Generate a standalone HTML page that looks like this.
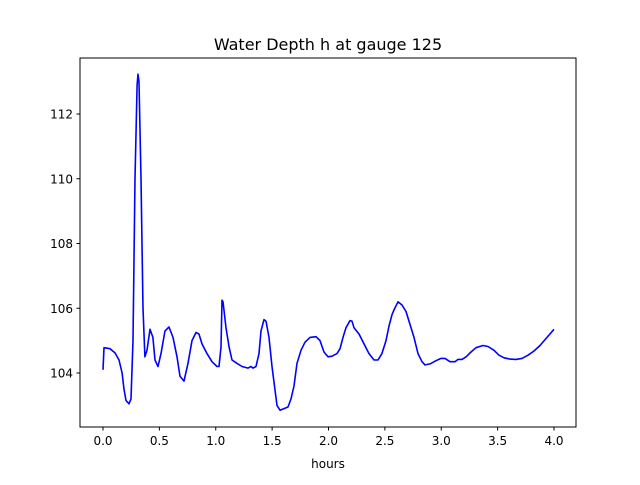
<!DOCTYPE html>
<html><head><meta charset="utf-8"><style>
body{margin:0;background:#fff;font-family:"Liberation Sans","DejaVu Sans",sans-serif;}
</style></head><body>
<svg id="chart" width="640" height="480" xmlns="http://www.w3.org/2000/svg" font-family="DejaVu Sans, Liberation Sans, sans-serif">
<rect width="640" height="480" fill="#fff"/>
<text x="328" y="50" text-anchor="middle" font-size="16">Water Depth h at gauge 125</text>
<text x="328" y="468" text-anchor="middle" font-size="12">hours</text>
<g id="ticks"></g>
<path id="line" fill="none" stroke="#0000ff" stroke-width="1.6" stroke-linejoin="round"/>
<rect x="80" y="58" width="496" height="369" fill="none" stroke="#000" stroke-width="1"/>
</svg>
<script>
const hours=[0,.009,.062,.106,.142,.169,.186,.204,.231,.248,.266,.284,.302,.310,.319,.337,.355,.372,.390,.417,.443,.461,.488,.514,.550,.585,.621,.656,.683,.718,.754,.789,.825,.851,.878,.922,.967,1.011,1.029,1.047,1.055,1.064,1.091,1.118,1.144,1.188,1.233,1.286,1.313,1.330,1.357,1.384,1.401,1.428,1.446,1.472,1.499,1.525,1.543,1.570,1.605,1.641,1.667,1.694,1.721,1.756,1.792,1.836,1.889,1.925,1.960,1.996,2.031,2.075,2.102,2.129,2.155,2.191,2.208,2.226,2.271,2.315,2.359,2.404,2.439,2.474,2.510,2.537,2.563,2.581,2.616,2.652,2.687,2.723,2.758,2.794,2.829,2.856,2.900,2.953,2.998,3.033,3.078,3.122,3.149,3.184,3.220,3.264,3.308,3.370,3.415,3.468,3.512,3.557,3.610,3.663,3.716,3.769,3.823,3.876,3.938,4.0];
const depth=[104.1,104.78,104.75,104.62,104.4,104.0,103.5,103.15,103.05,103.2,105,110,112.9,113.23,113,110,106,104.5,104.7,105.35,105.1,104.4,104.2,104.6,105.3,105.42,105.1,104.5,103.9,103.75,104.3,105.0,105.25,105.2,104.9,104.6,104.35,104.2,104.2,104.8,106.25,106.2,105.4,104.8,104.4,104.3,104.2,104.15,104.2,104.15,104.2,104.6,105.3,105.65,105.6,105.1,104.2,103.5,103.0,102.85,102.9,102.95,103.2,103.6,104.3,104.7,104.95,105.1,105.12,105.0,104.65,104.5,104.52,104.6,104.75,105.1,105.4,105.62,105.6,105.4,105.2,104.9,104.6,104.4,104.4,104.6,105.0,105.45,105.8,105.95,106.2,106.1,105.9,105.5,105.1,104.6,104.35,104.25,104.28,104.38,104.45,104.45,104.35,104.35,104.42,104.42,104.5,104.65,104.78,104.85,104.82,104.7,104.55,104.47,104.43,104.42,104.45,104.55,104.68,104.85,105.1,105.35];
const xTicks=[0,0.5,1,1.5,2,2.5,3,3.5,4];
const xTickLabels=["0.0","0.5","1.0","1.5","2.0","2.5","3.0","3.5","4.0"];
const yTicks=[104,106,108,110,112];
const yTickLabels=["104","106","108","110","112"];
const xs=t=>103+t*112.75;
const ys=v=>373-(v-104)*32.375;
const ns="http://www.w3.org/2000/svg";
const g=document.getElementById('ticks');
function mk(tag,attrs){const e=document.createElementNS(ns,tag);for(const k in attrs)e.setAttribute(k,attrs[k]);return e;}
xTicks.forEach((t,i)=>{
 const l=mk('line',{x1:xs(t),x2:xs(t),y1:427,y2:430.5,stroke:'#000'});
 
 
 g.appendChild(l);
 const tx=mk('text',{x:xs(t),y:445,'text-anchor':'middle','font-size':'12'});
 
 
 tx.textContent=xTickLabels[i];g.appendChild(tx);
});
yTicks.forEach((v,i)=>{
 const l=mk('line',{x1:76.5,x2:80,y1:ys(v),y2:ys(v),stroke:'#000'});
 
 
 g.appendChild(l);
 const tx=mk('text',{x:73,y:ys(v)+4.5,'text-anchor':'end','font-size':'12'});
 
 
 tx.textContent=yTickLabels[i];g.appendChild(tx);
});
document.getElementById('line').setAttribute('d',hours.map((t,i)=>(i?'L':'M')+xs(t).toFixed(1)+','+ys(depth[i]).toFixed(1)).join(''));
</script>
</body></html>
